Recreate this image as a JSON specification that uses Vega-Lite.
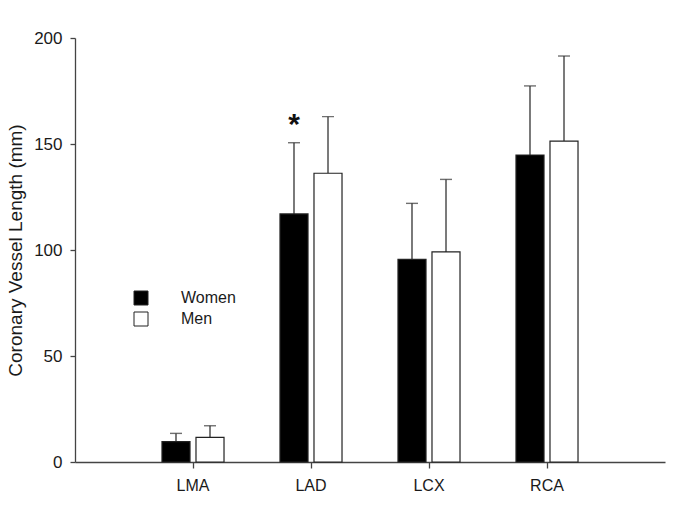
{
  "$schema": "https://vega.github.io/schema/vega-lite/v6.json",
  "width": 590,
  "height": 424,
  "autosize": {"type": "none"},
  "padding": {"left": 75, "top": 38, "right": 20, "bottom": 44},
  "background": "white",
  "config": {
    "view": {"stroke": null},
    "font": "Liberation Sans",
    "axis": {"grid": false, "domainColor": "#444444", "tickColor": "#444444", "labelColor": "#1a1a1a", "titleColor": "#1a1a1a", "domainWidth": 1.3, "tickWidth": 1.3}
  },
  "data": {
    "values": [
      {"vessel": "LMA", "sex": "Women", "mean": 9.6, "upper": 13.5, "sig": ""},
      {"vessel": "LMA", "sex": "Men", "mean": 11.6, "upper": 17.1, "sig": ""},
      {"vessel": "LAD", "sex": "Women", "mean": 117.0, "upper": 150.6, "sig": "*"},
      {"vessel": "LAD", "sex": "Men", "mean": 136.2, "upper": 162.9, "sig": ""},
      {"vessel": "LCX", "sex": "Women", "mean": 95.6, "upper": 122.0, "sig": ""},
      {"vessel": "LCX", "sex": "Men", "mean": 99.1, "upper": 133.3, "sig": ""},
      {"vessel": "RCA", "sex": "Women", "mean": 144.8, "upper": 177.4, "sig": ""},
      {"vessel": "RCA", "sex": "Men", "mean": 151.4, "upper": 191.5, "sig": ""}
    ]
  },
  "encoding": {
    "x": {
      "field": "vessel", "type": "nominal", "sort": ["LMA", "LAD", "LCX", "RCA"],
      "scale": {"paddingInner": 0, "paddingOuter": 0.5},
      "axis": {"title": null, "labelAngle": 0, "labelFontSize": 16, "tickSize": 6, "labelPadding": 9}
    },
    "xOffset": {
      "field": "sex", "type": "nominal", "sort": ["Women", "Men"],
      "scale": {"paddingInner": 0.176, "paddingOuter": 0.823}
    }
  },
  "layer": [
    {
      "mark": {"type": "rule", "stroke": "#333333", "strokeWidth": 1.3},
      "encoding": {
        "y": {"field": "mean", "type": "quantitative", "title": "Coronary Vessel Length (mm)",
          "scale": {"domain": [0, 200]},
          "axis": {"values": [0, 50, 100, 150, 200], "tickSize": 5, "labelFontSize": 17, "labelPadding": 8, "titleFontSize": 19, "titleFontWeight": "normal", "titlePadding": 8}},
        "y2": {"field": "upper"}
      }
    },
    {
      "mark": {"type": "bar", "stroke": "#222222", "strokeWidth": 1.2},
      "encoding": {
        "y": {"field": "mean", "type": "quantitative", "title": "Coronary Vessel Length (mm)"},
        "fill": {
          "field": "sex", "type": "nominal",
          "scale": {"domain": ["Women", "Men"], "range": ["#000000", "#ffffff"]},
          "legend": {"orient": "none", "legendX": 58, "legendY": 252, "title": null, "symbolType": "square", "symbolSize": 196, "symbolStrokeColor": "#222222", "symbolStrokeWidth": 1, "labelFontSize": 16, "labelOffset": 32, "rowPadding": 3, "padding": 0, "labelColor": "#1a1a1a"}
        }
      }
    },
    {
      "mark": {"type": "tick", "orient": "horizontal", "size": 12, "thickness": 1.4, "color": "#333333"},
      "encoding": {
        "y": {"field": "upper", "type": "quantitative", "title": "Coronary Vessel Length (mm)"}
      }
    },
    {
      "mark": {"type": "text", "fontSize": 30, "fontWeight": "bold", "dy": -9, "baseline": "alphabetic", "color": "#111111"},
      "encoding": {
        "y": {"field": "upper", "type": "quantitative", "title": "Coronary Vessel Length (mm)"},
        "text": {"field": "sig"}
      }
    }
  ]
}
